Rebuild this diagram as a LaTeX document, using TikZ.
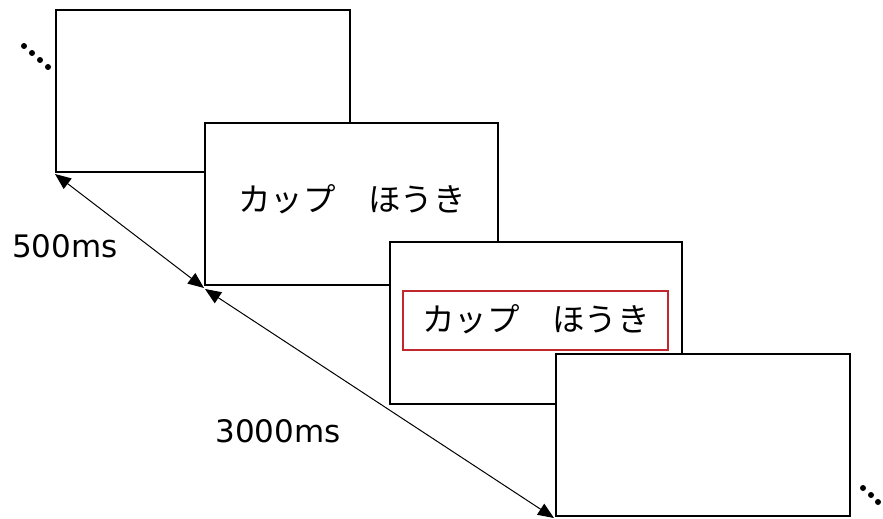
\documentclass[tikz,border=0pt]{standalone}
\usepackage{fontspec}
\newfontfamily\jpfont{Noto Sans CJK JP}
\newfontfamily\lblfont{DejaVu Sans}
\usetikzlibrary{arrows.meta}
\definecolor{redbox}{HTML}{C0282D}
\tikzset{
  frame/.style={draw=black, line width=2.8pt, fill=white},
  jptext/.style={font=\jpfont\fontsize{32.5}{38}\selectfont, inner sep=0pt},
  lbl/.style={font=\lblfont\fontsize{31}{36}\selectfont, inner sep=0pt},
  timearrow/.style={line width=1pt, {Triangle[length=16pt,width=13pt]}-{Triangle[length=16pt,width=13pt]}},
  dotmark/.style={fill=black, draw=none},
}
\begin{document}
\begin{tikzpicture}[x=1pt,y=-1pt]
\useasboundingbox (0,0) rectangle (883,519);
% boxes
\draw[frame] (56,10) rectangle (350,172);
\coordinate (b1sw) at (55,174);
\draw[frame] (205,123) rectangle (498,285);
\coordinate (b2sw) at (204,288);
\draw[frame] (390,242) rectangle (682,404);
\draw[draw=redbox, line width=2.6pt] (403,291) rectangle (668,350);
\draw[frame] (556,354) rectangle (850,516);
\coordinate (b2sw2) at (205,289);
\coordinate (b4sw) at (554,518);
% texts
\node[jptext] (t1) at (352,199) {カップ\hspace{1em}ほうき};
\node[jptext] (t2) at (536,319) {カップ\hspace{1em}ほうき};
\node[lbl] (l1) at (65,246) {500ms};
\node[lbl] (l2) at (278,431) {3000ms};
% arrows
\draw[timearrow] (b1sw) -- (b2sw);
\draw[timearrow] (b2sw2) -- (b4sw);
% dots
\foreach \p in {(24,46),(32,53),(40,60),(48,67),(863,488),(871,495),(878,502)}
  \fill[dotmark] \p circle (3);
\end{tikzpicture}
\end{document}
